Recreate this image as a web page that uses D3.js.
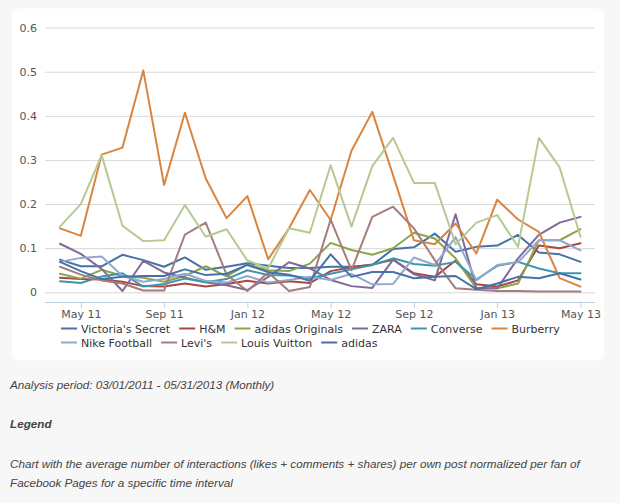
<!DOCTYPE html>
<html>
<head>
<meta charset="utf-8">
<script src="https://cdn.jsdelivr.net/npm/d3@7/dist/d3.min.js"></script>
<style>
  html, body { margin: 0; padding: 0; background: #f7f7f7; }
  svg { display: block; }
</style>
</head>
<body>
<svg id="chart" width="620" height="503"></svg>
<script>
// ---- data ----
const months = ["Apr 11","May 11","Jun 11","Jul 11","Aug 11","Sep 11","Oct 11","Nov 11","Dec 11",
  "Jan 12","Feb 12","Mar 12","Apr 12","May 12","Jun 12","Jul 12","Aug 12","Sep 12","Oct 12","Nov 12","Dec 12",
  "Jan 13","Feb 13","Mar 13","Apr 13","May 13"];
const tickLabels = ["May 11","Sep 11","Jan 12","May 12","Sep 12","Jan 13","May 13"];
const yTicks = [0, 0.1, 0.2, 0.3, 0.4, 0.5, 0.6];
const seriesNames = ["Victoria's Secret","H&M","adidas Originals","ZARA","Converse","Burberry",
  "Nike Football","Levi's","Louis Vuitton","adidas"];
const seriesColors = ["#4572A7","#AA4643","#89A54E","#80699B","#3D96AE","#DB843D",
  "#92A8CD","#A47D7C","#B5CA92","#4572A7"];

const victoriasSecret = [0.074,0.059,0.059,0.085,0.073,0.058,0.079,0.051,0.058,0.066,0.060,0.055,0.055,0.058,0.058,0.062,0.098,0.102,0.133,0.092,0.103,0.106,0.130,0.090,0.086,0.069];
const hm = [0.033,0.030,0.029,0.024,0.014,0.013,0.020,0.013,0.019,0.026,0.020,0.025,0.021,0.048,0.057,0.063,0.074,0.043,0.035,0.072,0.018,0.013,0.027,0.106,0.100,0.111];
const adidasOriginals = [0.042,0.031,0.051,0.037,0.033,0.024,0.037,0.059,0.036,0.063,0.050,0.048,0.065,0.112,0.096,0.085,0.100,0.135,0.122,0.077,0.009,0.009,0.020,0.118,0.118,0.143];
const zara = [0.110,0.087,0.053,0.003,0.071,0.045,0.033,0.023,0.016,0.005,0.035,0.068,0.054,0.028,0.014,0.010,0.074,0.041,0.027,0.177,0.009,0.009,0.077,0.130,0.158,0.171];
const converse = [0.025,0.021,0.036,0.043,0.013,0.019,0.031,0.023,0.030,0.050,0.039,0.038,0.032,0.042,0.052,0.062,0.077,0.064,0.060,0.069,0.029,0.060,0.069,0.054,0.043,0.043];
const burberry = [0.145,0.128,0.312,0.328,0.503,0.243,0.407,0.258,0.168,0.218,0.075,0.145,0.232,0.164,0.321,0.409,0.265,0.118,0.109,0.156,0.088,0.210,0.165,0.137,0.032,0.013];
const nikeFootball = [0.069,0.078,0.081,0.037,0.024,0.030,0.042,0.026,0.022,0.037,0.022,0.028,0.035,0.028,0.042,0.018,0.019,0.079,0.062,0.125,0.027,0.062,0.068,0.118,0.118,0.095];
const levis = [0.058,0.040,0.027,0.020,0.004,0.004,0.131,0.158,0.040,0.003,0.045,0.003,0.012,0.165,0.050,0.171,0.194,0.145,0.073,0.009,0.006,0.003,0.003,0.002,0.002,0.002];
const louisVuitton = [0.149,0.200,0.311,0.151,0.116,0.118,0.198,0.126,0.143,0.072,0.054,0.145,0.135,0.288,0.149,0.286,0.350,0.248,0.248,0.109,0.158,0.175,0.103,0.350,0.283,0.126];
const adidas = [0.069,0.048,0.030,0.035,0.037,0.037,0.052,0.039,0.042,0.062,0.046,0.040,0.026,0.086,0.035,0.046,0.046,0.032,0.035,0.037,0.007,0.020,0.035,0.032,0.043,0.029];

const seriesValues = [victoriasSecret, hm, adidasOriginals, zara, converse, burberry, nikeFootball, levis, louisVuitton, adidas];

// ---- layout ----
const svg = d3.select("#chart");
const plotLeft = 45, plotRight = 595, axisY = 302;
const FONT = "'DejaVu Sans', 'Lucida Grande', Verdana, sans-serif";
const TFONT = "'Liberation Sans', Arial, Helvetica, sans-serif";

// card
svg.append("rect").attr("x", 12).attr("y", 8.5).attr("width", 592).attr("height", 352)
  .attr("rx", 6).attr("fill", "#ffffff");

const x = d3.scalePoint().domain(months).range([60, 580.5]);
const y = d3.scaleLinear().domain([0, 0.6]).range([292.3, 27.6]);

// gridlines + y labels
const yAxis = d3.axisLeft(y).tickValues(yTicks)
  .tickSize(-(plotRight - plotLeft)).tickPadding(8)
  .tickFormat(d => d === 0 ? "0" : d3.format(".1f")(d));
const gy = svg.append("g").attr("transform", `translate(${plotLeft},0)`).call(yAxis);
gy.select(".domain").remove();
gy.selectAll(".tick line").attr("stroke", "#d8d8d8").attr("stroke-width", 1);
gy.selectAll(".tick text").attr("font-family", FONT).attr("font-size", 11).attr("fill", "#555");

// x axis
const xAxis = d3.axisBottom(x).tickValues(tickLabels).tickSize(6).tickPadding(2).tickSizeOuter(0);
const gx = svg.append("g").attr("transform", `translate(0,${axisY})`).call(xAxis);
gx.select(".domain").attr("d", `M${plotLeft},0.5H${plotRight}`).attr("stroke", "#C0D0E0");
gx.selectAll(".tick line").attr("stroke", "#C0D0E0");
gx.selectAll(".tick text").attr("font-family", FONT).attr("font-size", 11).attr("fill", "#555");

// lines
const line = d3.line().x((d, i) => x(months[i])).y(d => y(d));
seriesValues.forEach((vals, k) => {
  svg.append("path").datum(vals).attr("d", line)
    .attr("fill", "none").attr("stroke", seriesColors[k]).attr("stroke-width", 2)
    .attr("stroke-linejoin", "round").attr("stroke-linecap", "round");
});

// legend
const rows = [[0,1,2,3,4,5],[6,7,8,9]];
const rowY = [328.5, 342.5];
rows.forEach((row, r) => {
  let cx = 61;
  row.forEach(k => {
    const g = svg.append("g").attr("transform", `translate(${cx},${rowY[r]})`);
    g.append("line").attr("x1", 0).attr("x2", 16).attr("y1", 0).attr("y2", 0)
      .attr("stroke", seriesColors[k]).attr("stroke-width", 2);
    const t = g.append("text").attr("x", 20).attr("y", 4)
      .attr("font-family", FONT).attr("font-size", 11).attr("fill", "#333")
      .text(seriesNames[k]);
    cx += 20 + t.node().getComputedTextLength() + 9;
  });
});

// notes below
const notes = svg.append("g").attr("font-family", TFONT).attr("font-size", 11.7).attr("fill", "#444")
  .attr("font-style", "italic");
notes.append("text").attr("x", 10).attr("y", 388.5).text("Analysis period: 03/01/2011 - 05/31/2013 (Monthly)");
notes.append("text").attr("x", 10).attr("y", 427.5).attr("font-weight", "bold").text("Legend");
notes.append("text").attr("x", 10).attr("y", 467.5).text("Chart with the average number of interactions (likes + comments + shares) per own post normalized per fan of");
notes.append("text").attr("x", 10).attr("y", 487).text("Facebook Pages for a specific time interval");
</script>
</body>
</html>
